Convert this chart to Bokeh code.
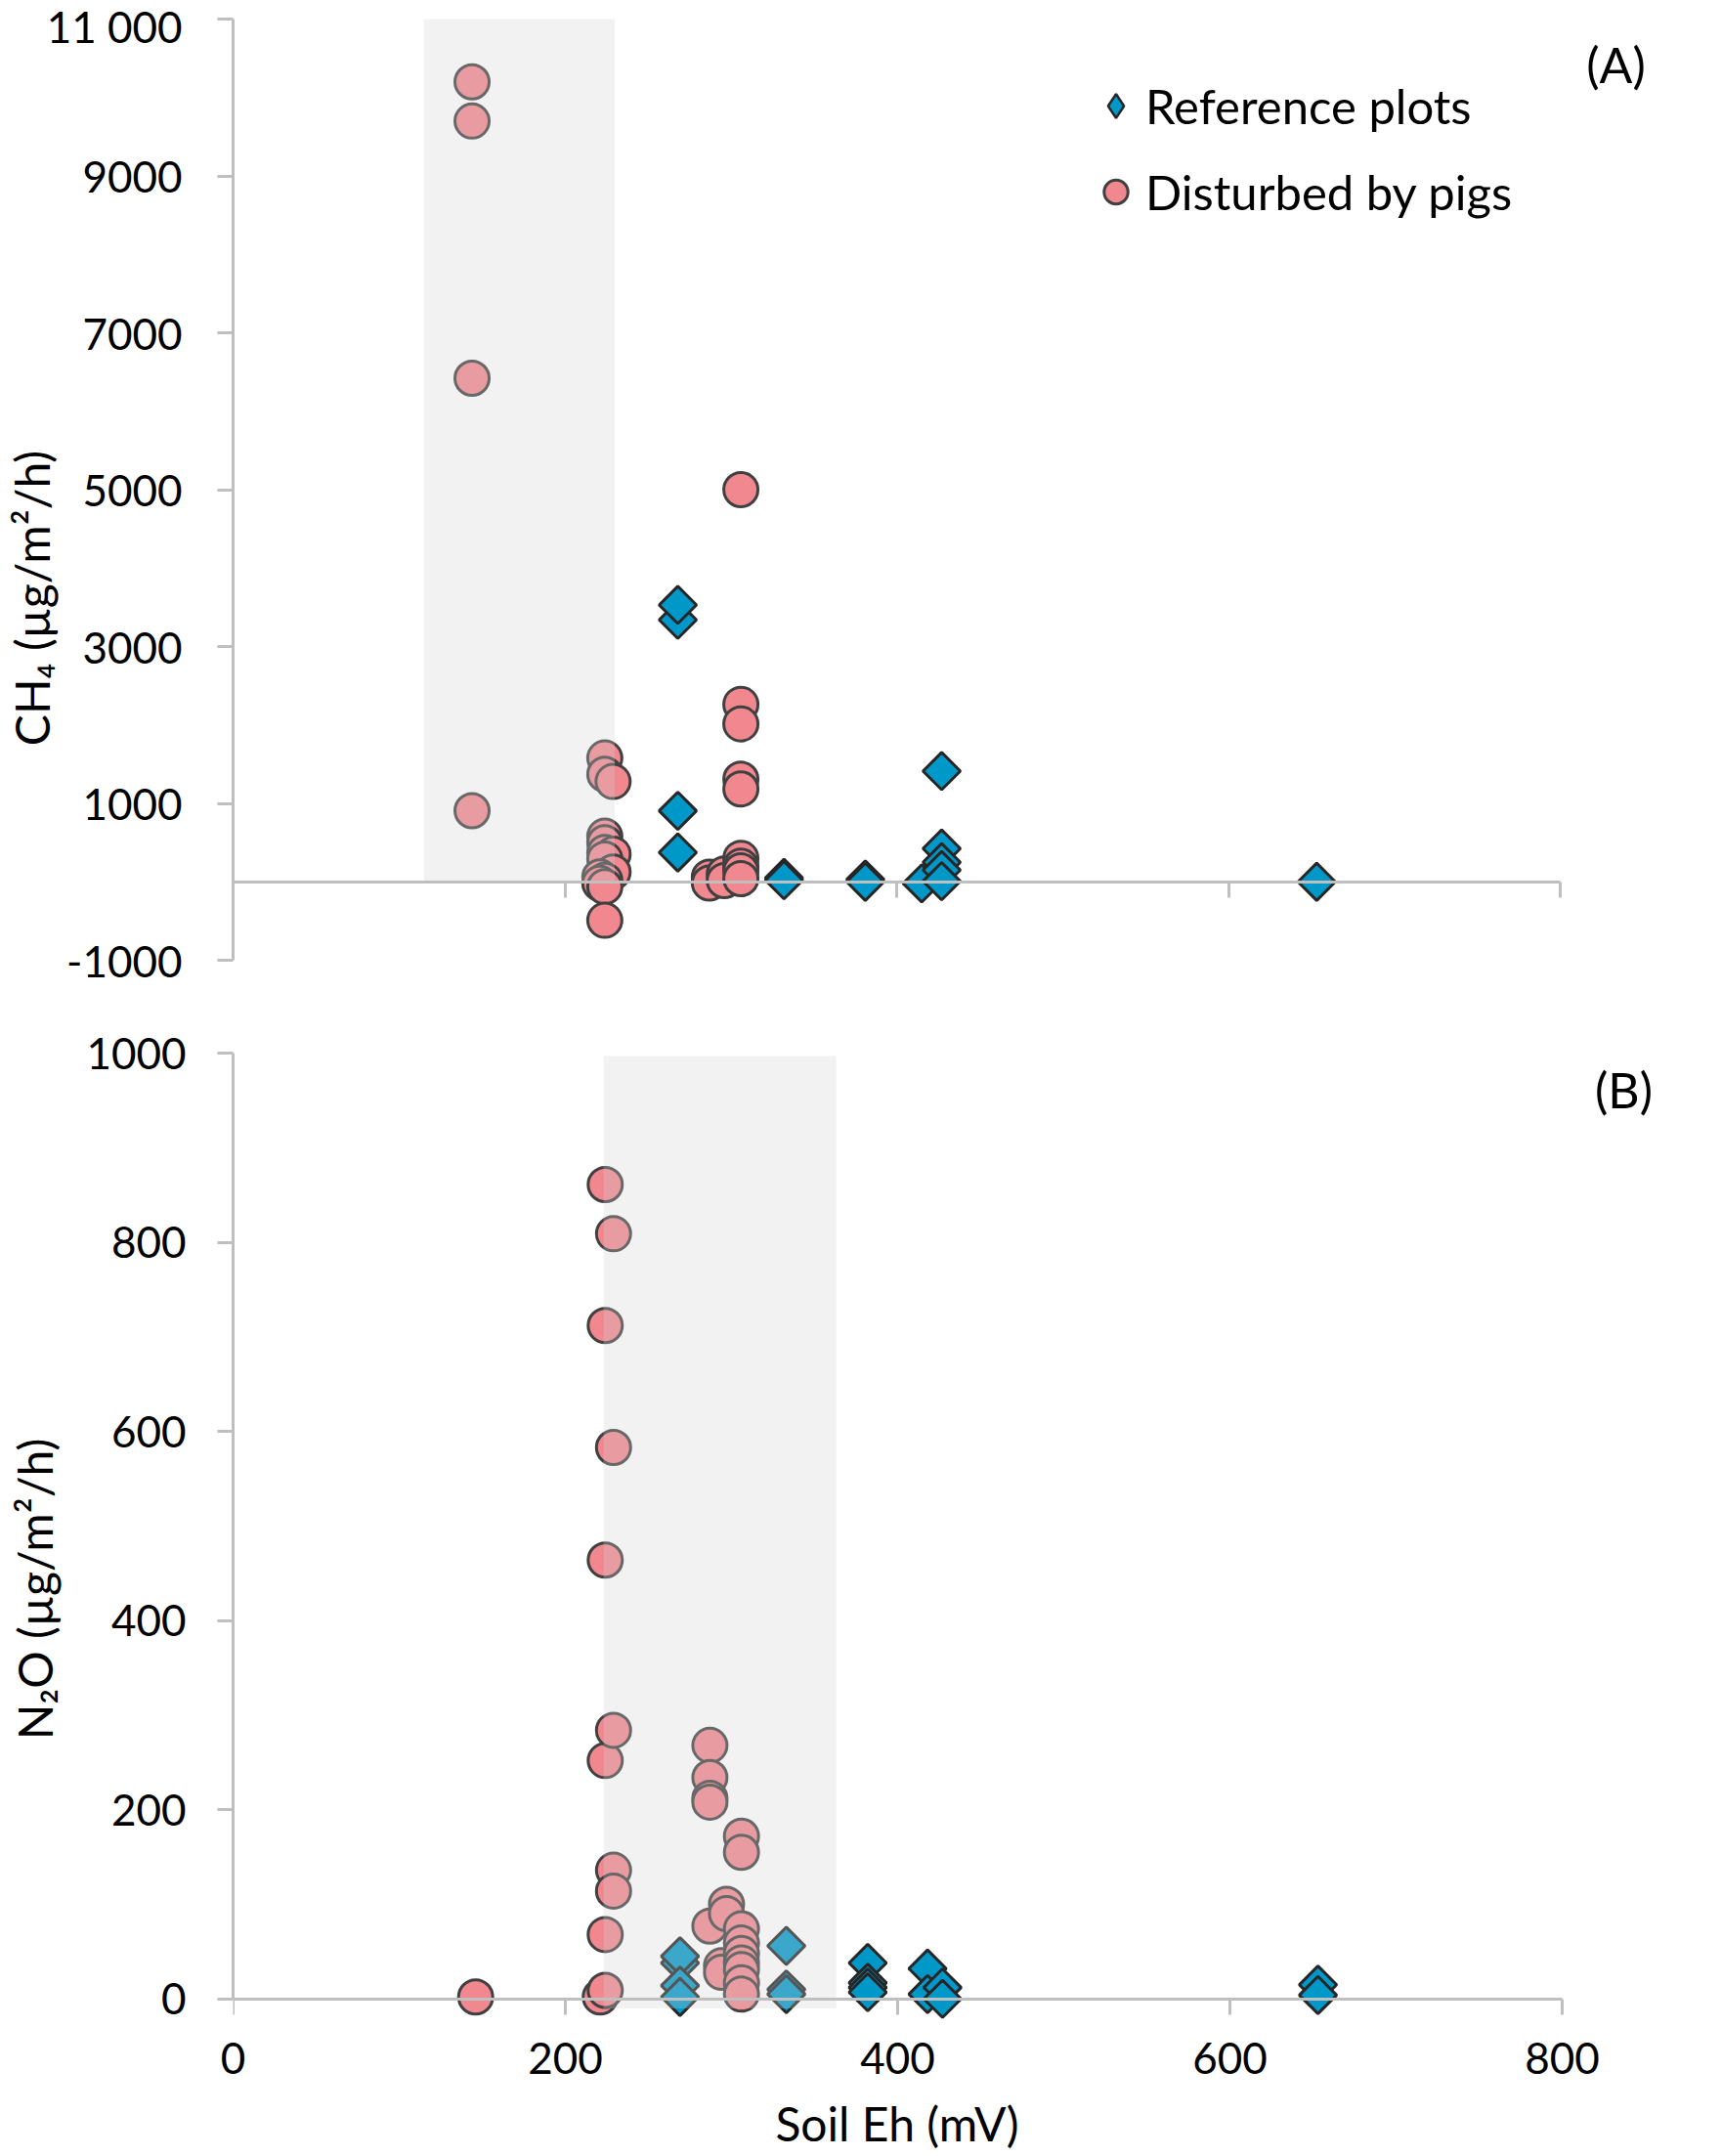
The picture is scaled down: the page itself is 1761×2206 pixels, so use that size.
import numpy as np
from bokeh.plotting import figure
from bokeh.models import Range1d, FixedTicker, Label, Legend, LegendItem, LinearAxis
from bokeh.layouts import column
from bokeh.embed import file_html
from bokeh.resources import INLINE

# ---------------- data: panel A (CH4) ----------------
ch4_ref_eh = [268, 268, 268, 268, 332, 332, 381, 381, 415, 427, 427, 427, 427, 427, 653]
ch4_ref_flux = [3340, 3530, 905, 374, 50, 20, 30, 0, -20, 1412, 424, 250, 150, 8, 0]

ch4_pig_eh = [144, 144, 144, 144,
              224, 224, 229, 224, 224, 224, 229, 224, 229, 221, 224, 221, 224, 224,
              287, 287, 296, 296,
              306, 306, 306, 306, 306, 306, 306, 306, 306]
ch4_pig_flux = [10200, 9700, 6420, 907,
                1578, 1370, 1279, 581, 498, 374, 353, 291, 125, 62, 20, -20, -62, -490,
                60, -15, 100, 15,
                5000, 2263, 2014, 1308, 1184, 300, 200, 140, 40]

# ---------------- data: panel B (N2O) ----------------
n2o_ref_eh = [269, 269, 269, 269, 333, 333, 333, 382, 382, 382, 382, 418, 418, 427, 427, 653, 653]
n2o_ref_flux = [38, 45, 14, 2, 56, 10, 5, 38, 17, 12, 7, 32, 5, 12, 0, 15, 4]

n2o_pig_eh = [146, 221,
              224, 224, 224, 224, 224, 224,
              229, 229, 229, 229, 229,
              287, 287, 287, 287, 287,
              297, 297, 294, 294,
              306, 306, 306, 306, 306, 306, 306, 306, 306]
n2o_pig_flux = [2, 2,
                861, 712, 464, 252, 68, 9,
                809, 583, 284, 136, 114,
                268, 234, 212, 208, 77,
                100, 90, 35, 28,
                172, 155, 74, 59, 48, 38, 31, 17, 5]

# shaded Eh bands
ch4_band_eh = [115, 230]
ch4_band_flux = [0, 11000]
n2o_band_eh = [223, 363]
n2o_band_flux = [-10, 997]

# ticks
x_ticks = [0, 200, 400, 600, 800]
x_tick_labels = ["0", "200", "400", "600", "800"]
ch4_ticks = [-1000, 1000, 3000, 5000, 7000, 9000, 11000]
ch4_tick_labels = ["-1000", "1000", "3000", "5000", "7000", "9000", "11 000"]
n2o_ticks = [0, 200, 400, 600, 800, 1000]
n2o_tick_labels = ["0", "200", "400", "600", "800", "1000"]

series_names = ["Reference plots", "Disturbed by pigs"]

FONT = "Lato"
AX = "#bfbfbf"
BLUE = "#0098c9"
PINK = "#f1878f"
TXT = "#000000"
TICK_FS = "44px"
TITLE_FS = "48px"
EM = "\u2003"
THIN = "\u2009"


def style_axis(ax):
    ax.axis_line_color = AX
    ax.axis_line_width = 3
    ax.major_tick_line_color = AX
    ax.major_tick_line_width = 3
    ax.major_tick_out = 16
    ax.major_tick_in = 0
    ax.minor_tick_line_color = None
    ax.major_label_text_font = FONT
    ax.major_label_text_font_size = TICK_FS
    ax.major_label_text_color = TXT
    ax.axis_label_text_font = FONT
    ax.axis_label_text_font_size = TITLE_FS
    ax.axis_label_text_font_style = "normal"
    ax.axis_label_text_color = TXT


def base_fig(fw, fh, xr, yr, mbl, mbt, mbb):
    p = figure(frame_width=fw, frame_height=fh, x_range=xr, y_range=yr,
               output_backend="svg", toolbar_location=None,
               min_border_left=mbl, min_border_top=mbt, min_border_bottom=mbb,
               min_border_right=3)
    p.grid.visible = False
    p.outline_line_color = None
    p.background_fill_color = "white"
    p.border_fill_color = "white"
    return p


def add_points(p, ref_x, ref_y, pig_x, pig_y, band_x, band_y):
    r_ref = p.scatter(ref_x, ref_y, marker="square", angle=np.pi / 4, size=27,
                      fill_color=BLUE, line_color="#262626", line_width=3)
    r_pig = p.scatter(pig_x, pig_y, marker="circle", size=35,
                      fill_color=PINK, line_color="#404040", line_width=3)
    p.quad(left=[band_x[0]], right=[band_x[1]], bottom=[band_y[0]], top=[band_y[1]],
           fill_color="#d0d0d0", fill_alpha=0.28, line_color=None)
    return r_ref, r_pig


# ---------------- panel A ----------------
pA = base_fig(1500, 963, Range1d(0, 1500 / 1.698), Range1d(-1000, 11000), 234, 19, 40)
xa = pA.below[0]
style_axis(xa)
xa.fixed_location = 0
xa.bounds = (0, 800)
xa.ticker = FixedTicker(ticks=x_ticks)
xa.major_label_overrides = {t: "" for t in x_ticks}
xa.major_label_text_font_size = "0px"
ya = pA.left[0]
style_axis(ya)
ya.ticker = FixedTicker(ticks=ch4_ticks)
ya.major_label_overrides = dict(zip(ch4_ticks, ch4_tick_labels))
ya.major_label_standoff = 36
ya.axis_label = "CH\u2084 (\u00b5g/m\u00b2/h)" + EM * 6 + THIN
ya.axis_label_standoff = -16

rA_ref, rA_pig = add_points(pA, ch4_ref_eh, ch4_ref_flux, ch4_pig_eh, ch4_pig_flux,
                            ch4_band_eh, ch4_band_flux)
# legend symbol for the diamond series (a proxy that draws nothing in the plot)
proxy = pA.scatter(x=[np.nan], y=[np.nan], marker="diamond", fill_color=BLUE,
                   line_color="#262626", line_width=2.5)

leg = Legend(items=[LegendItem(label=series_names[0], renderers=[proxy]),
                    LegendItem(label=series_names[1], renderers=[rA_pig])],
             location=(873, 746), glyph_width=61, glyph_height=80, spacing=8,
             label_standoff=0, padding=0, margin=0, border_line_color=None,
             background_fill_alpha=0, label_text_font=FONT,
             label_text_font_size="49px", label_text_color=TXT)
pA.add_layout(leg)

pA.add_layout(Label(x=1415, y=917, x_units="screen", y_units="screen", text="(A)",
                    text_align="center", text_baseline="middle",
                    text_font=FONT, text_font_size="50px", text_color=TXT))

# ---------------- panel B ----------------
pB = base_fig(1509, 989, Range1d(0, 1509 / 1.7), Range1d(-22, 1000), 225, 55, 0)
xb = pB.below[0]
yb = pB.left[0]

# tick labels + title under the frame
style_axis(xb)
xb.axis_line_color = None
xb.major_tick_line_color = None
xb.major_tick_out = 0
xb.ticker = FixedTicker(ticks=x_ticks)
xb.major_label_overrides = dict(zip(x_ticks, x_tick_labels))
xb.major_label_standoff = 23
xb.axis_label = "Soil Eh (mV)" + EM * 4 + THIN
xb.axis_label_standoff = 19

# axis line + ticks at y = 0 (ticks pointing down)
x0 = LinearAxis(fixed_location=0, bounds=(0, 800), ticker=FixedTicker(ticks=x_ticks))
style_axis(x0)
x0.major_tick_out = 0
x0.major_tick_in = 16
x0.major_label_overrides = {t: "" for t in x_ticks}
x0.major_label_text_font_size = "0px"
x0.major_label_standoff = 0
pB.add_layout(x0, "above")

style_axis(yb)
yb.bounds = (0, 1000)
yb.ticker = FixedTicker(ticks=n2o_ticks)
yb.major_label_overrides = dict(zip(n2o_ticks, n2o_tick_labels))
yb.major_label_standoff = 32
yb.axis_label = "N\u2082O (\u00b5g/m\u00b2/h)" + EM * 3
yb.axis_label_standoff = 21

add_points(pB, n2o_ref_eh, n2o_ref_flux, n2o_pig_eh, n2o_pig_flux, n2o_band_eh, n2o_band_flux)

pB.add_layout(Label(x=1423, y=952, x_units="screen", y_units="screen", text="(B)",
                    text_align="center", text_baseline="middle",
                    text_font=FONT, text_font_size="50px", text_color=TXT))

layout = column(pA, pB, spacing=0)
open("out.html", "w").write(file_html(layout, INLINE))
